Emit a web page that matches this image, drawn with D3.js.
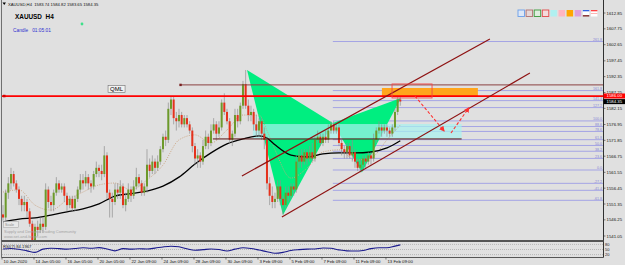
<!DOCTYPE html>
<html>
<head>
<meta charset="utf-8">
<script src="https://cdn.jsdelivr.net/npm/d3@7"></script>
<style>
  body { margin: 0; background: #e0e0e0; }
  svg { display: block; font-family: "Liberation Sans", Arial, sans-serif; }
</style>
</head>
<body>
<svg id="chart" width="625" height="265"></svg>
<script>
// ---- data (XAUUSD H4) ----
const priceTicks = [1612.85,1607.75,1602.65,1597.45,1592.35,1587.25,1582.15,1576.95,1571.85,1566.75,1561.55,1556.45,1551.35,1546.25,1541.05];
const timeLabels = ["10 Jan 2020","14 Jan 05:00","16 Jan 05:00","20 Jan 05:00","22 Jan 09:00","24 Jan 09:00","28 Jan 09:00","30 Jan 09:00","3 Feb 09:00","5 Feb 09:00","7 Feb 09:00","11 Feb 09:00","13 Feb 09:00"];
const timeLabelIdx = [0,12,24,36,48,60,72,84,96,108,120,132,144];

const firstOpen = 1548;
const highs = [
  1551,1556,1560,1563,1562,1559,1557,1554,1554,1553,
  1550,1546,1545,1546,1547,1547,1558,1557,1554,1556,
  1560,1559,1558,1558,1555,1554,1554,1554,1557,1561,
  1561,1562,1561,1559,1562,1565,1564,1564,1570,1568,
  1556,1555,1558,1558,1559,1558,1555,1558,1557,1559,
  1563,1561,1559,1558,1569,1566,1567,1566,1567,1570,
  1574,1575,1584,1586,1586,1581,1582,1581,1580,1580,
  1578,1576,1571,1569,1568,1572,1575,1574,1577,1579,
  1578,1578,1585,1587,1582,1579,1575,1582,1582,1584,
  1591,1594.5,1585,1583,1582,1580,1579,1579,1576,1573,
  1560,1557,1555,1559,1559,1554,1557,1557,1558,1558,
  1567,1569,1569,1569,1569,1570,1571,1573,1575,1574,
  1574,1575,1577,1578,1578,1577,1577,1572,1570,1571,
  1571,1572,1569,1566,1566,1567,1567,1568,1568,1574,
  1576,1578,1577,1577,1577,1576,1577,1582,1586,1586];
const lows = [
  1546,1546,1553,1556,1557,1555,1551,1549,1549,1547,
  1544,1537,1538,1541,1542,1542,1543,1550,1549,1549,
  1554,1555,1555,1552,1549,1550,1549,1549,1552,1555,
  1556,1557,1556,1555,1556,1560,1560,1559,1560,1553,
  1547,1547,1551,1553,1553,1550,1549,1552,1552,1553,
  1556,1557,1554,1554,1555,1560,1561,1561,1562,1564,
  1568,1570,1571,1580,1577,1575,1576,1576,1576,1576,
  1574,1568,1564,1563,1563,1564,1569,1569,1570,1574,
  1572,1573,1575,1580,1577,1571,1570,1573,1576,1577,
  1582,1582,1578,1578,1575,1573,1573,1572,1569,1556,
  1551,1550,1550,1552,1551,1548,1550,1552,1553,1554,
  1555,1563,1563,1564,1564,1565,1565,1565,1571,1570,
  1570,1571,1571,1574,1574,1574,1570,1567,1566,1566,
  1566,1565,1563,1562,1561.5,1562,1563,1564,1564,1565,
  1571,1574,1573,1574,1573,1573,1573,1575,1580,1583];
const closes = [
  1547,1555,1558,1561,1558,1556,1553,1551,1552,1549,
  1545,1539,1544,1543,1545,1544,1556,1552,1551,1555,
  1558,1556,1557,1554,1551,1553,1550,1553,1556,1559,
  1558,1560,1558,1557,1561,1563,1562,1561,1567,1555,
  1553,1552,1556,1555,1557,1551,1553,1556,1554,1557,
  1560,1558,1555,1557,1564,1562,1565,1563,1565,1569,
  1573,1572,1582,1585,1579,1578,1580,1577,1579,1577,
  1575,1570,1566,1567,1565,1570,1573,1571,1575,1577,
  1574,1576,1584,1581,1578,1572,1574,1580,1578,1583,
  1590,1583,1580,1581,1577,1575,1578,1574,1572,1558,
  1554,1552,1553,1557,1553,1551,1555,1554,1557,1556,
  1565,1567,1565,1568,1566,1568,1566,1572,1573,1571,
  1573,1572,1575,1577,1575,1576,1571,1569,1568,1570,
  1567,1568,1565,1563,1564,1566,1565,1567,1566,1572,
  1575,1576,1575,1576,1575,1574,1576,1581,1585,1584.35];

// moving averages, sampled every 6 bars
const maIdx  = [0,6,12,18,24,30,36,42,48,54,60,66,72,78,84,90,96,99,102,108,114,120,126,132,138,144,149];
const maSlow = [1545.6,1546.5,1546.9,1547.8,1548.8,1549.8,1551.4,1553.9,1554.7,1555.5,1557.1,1560.0,1564.2,1567.8,1570.7,1572.3,1573.3,1572.6,1570.4,1567.1,1566.5,1567.5,1567.8,1567.8,1568.1,1569.4,1571.7];
const maFast = [1555.2,1555.9,1551.0,1549.4,1552.6,1555.2,1557.5,1558.1,1555.9,1559.1,1563.9,1572.0,1573.6,1571.0,1575.2,1580.0,1580.0,1575.0,1568.8,1559.7,1562.9,1568.1,1568.8,1565.5,1566.2,1572.0,1576.8];

// RSI(7), sampled every 3 bars
const rsiIdx = [0,3,6,9,12,15,18,21,24,27,30,33,36,39,42,45,48,51,54,57,60,63,66,69,72,75,78,81,84,87,90,93,96,99,102,105,108,111,114,117,120,123,126,129,132,135,138,141,144,147,149];
const rsiVals = [53,56,51,42,33,52,57,55,52,56,60,57,61,53,42,55,52,54,53,58,65,69,66,54,46,49,53,50,41,52,60,56,47,37,28,33,44,49,52,53,59,57,48,42,41,44,55,60,60,70,77];
const rsiLevels = [80,50,20];

// fibonacci expansion
const fibLevels = [261.8,161.8,141.4,127.2,100.0,88.6,78.6,61.8,50.0,38.2,23.6,0.0,-27.2,-41.4,-61.8];
const fibZero = 1562.3, fibHundred = 1578.1, fibStartIdx = 123.7;

// harmonic pattern X A B C D
const harmIdx = [91.5,105,123.7,134.6,149.2];
const harmPx  = [1594.5,1547.8,1577.4,1561.5,1585.5];

// channel lines [idx1, px1, idx2, px2]
const chanUpper = [89.6,1560.4,182.6,1604.5];
const chanLower = [104.6,1547.2,197.6,1593.5];

const redLinePx = 1586.1, redLineLabel = "1586.00", brownLinePx = 1589.7, brownStartIdx = 66.7;
const zoneBottomPx = 1572.3, zoneTopPx = 1577.1, zoneIdx = [93.7,172], darkLineStartIdx = 78.7;
const orangePx = [1586.1,1588.7], orangeIdx = [142.1,178.1];
const boxPx = [1585.5,1590.0], boxIdx = [145.9,160.9];
const arrow1 = [154.5,1586.1,165.4,1574.9];
const arrow2 = [168,1574.2,174.7,1582.3];

const lastPrice = 1584.35;

// ---- layout ----
const svg = d3.select("#chart");
const W = 625, H = 265;
const left = 2, right = 603, mainTop = 1, mainBottom = 240, rsiTop = 242, rsiBottom = 257;

const x = d3.scaleLinear().domain([0, 149]).range([3, 400.3]);
const y = d3.scaleLinear().domain([1541.05, 1612.85]).range([236, 13]);
const yRsi = d3.scaleLinear().domain([0, 100]).range([258, 241]);

svg.append("rect").attr("width", W).attr("height", H).attr("fill", "#e0e0e0");

const defs = svg.append("defs");
defs.append("clipPath").attr("id", "clipMain").append("rect")
  .attr("x", left).attr("y", mainTop).attr("width", right - left).attr("height", mainBottom - mainTop);
defs.append("clipPath").attr("id", "clipRsi").append("rect")
  .attr("x", left).attr("y", rsiTop).attr("width", right - left).attr("height", rsiBottom - rsiTop);
defs.append("marker").attr("id", "arrowRed")
  .attr("viewBox", "0 0 10 10").attr("refX", 8).attr("refY", 5)
  .attr("markerWidth", 5).attr("markerHeight", 5).attr("orient", "auto")
  .append("path").attr("d", "M0,0L10,5L0,10z").attr("fill", "#ff3030");

const g = svg.append("g").attr("clip-path", "url(#clipMain)");

// fib lines
g.selectAll(".fib").data(fibLevels).join("line")
  .attr("x1", x(fibStartIdx)).attr("x2", right)
  .attr("y1", d => y(fibZero + (fibHundred - fibZero) * d / 100))
  .attr("y2", d => y(fibZero + (fibHundred - fibZero) * d / 100))
  .attr("stroke", "#a4a4e4").attr("stroke-width", 1);

// harmonic triangles
const tri = d3.line().x(d => x(d[0])).y(d => y(d[1]));
const pts = harmIdx.map((d, i) => [d, harmPx[i]]);
g.append("path").attr("d", tri([pts[0], pts[1], pts[2]]) + "Z").attr("fill", "#00ee80");
g.append("path").attr("d", tri([pts[2], pts[3], pts[4]]) + "Z").attr("fill", "#00ee80");

// cyan zone
g.append("rect")
  .attr("x", x(zoneIdx[0])).attr("width", x(zoneIdx[1]) - x(zoneIdx[0]))
  .attr("y", y(zoneTopPx)).attr("height", y(zoneBottomPx) - y(zoneTopPx))
  .attr("fill", "#a6f2f0").attr("fill-opacity", 0.7);

// orange zone
g.append("rect")
  .attr("x", x(orangeIdx[0])).attr("width", x(orangeIdx[1]) - x(orangeIdx[0]))
  .attr("y", y(orangePx[1])).attr("height", y(orangePx[0]) - y(orangePx[1]))
  .attr("fill", "#ffa51c");

// moving averages
const maLine = d3.line().x((d, i) => x(maIdx[i])).y(d => y(d)).curve(d3.curveMonotoneX);
g.append("path").attr("d", maLine(maFast)).attr("fill", "none")
  .attr("stroke", "#c9a27e").attr("stroke-width", 0.9).attr("stroke-dasharray", "1,1.3");
g.append("path").attr("d", maLine(maSlow)).attr("fill", "none")
  .attr("stroke", "#000").attr("stroke-width", 1.3);

// candles
const candles = closes.map((c, i) => ({ i, o: i ? closes[i - 1] : firstOpen, h: highs[i], l: lows[i], c }));
g.selectAll(".wick").data(candles).join("line")
  .attr("x1", d => x(d.i)).attr("x2", d => x(d.i))
  .attr("y1", d => y(d.h)).attr("y2", d => y(d.l))
  .attr("stroke", "#8e8e8e").attr("stroke-width", 0.7);
g.selectAll(".body").data(candles).join("rect")
  .attr("x", d => x(d.i) - 1).attr("width", 2)
  .attr("y", d => y(Math.max(d.o, d.c)))
  .attr("height", d => Math.max(0.7, Math.abs(y(d.o) - y(d.c))))
  .attr("fill", d => d.c >= d.o ? "#6c9a2a" : "#e5311c");

// horizontal lines
g.append("line").attr("x1", x(darkLineStartIdx)).attr("x2", x(zoneIdx[1]))
  .attr("y1", y(zoneBottomPx)).attr("y2", y(zoneBottomPx))
  .attr("stroke", "#5a1010").attr("stroke-width", 1);
g.append("line").attr("x1", x(brownStartIdx)).attr("x2", right)
  .attr("y1", y(brownLinePx)).attr("y2", y(brownLinePx))
  .attr("stroke", "#8b4040").attr("stroke-width", 1);
g.append("rect").attr("x", x(brownStartIdx) - 1.5).attr("y", y(brownLinePx) - 1.2)
  .attr("width", 2.4).attr("height", 2.4).attr("fill", "#7a2020");
g.append("line").attr("x1", left).attr("x2", right)
  .attr("y1", y(redLinePx)).attr("y2", y(redLinePx))
  .attr("stroke", "#ff0000").attr("stroke-width", 1.6);
g.append("rect").attr("x", left + 1).attr("y", y(redLinePx) - 1.3)
  .attr("width", 2.5).attr("height", 2.5).attr("fill", "#d00000");

// channel
[chanUpper, chanLower].forEach(c => {
  g.append("line")
    .attr("x1", x(c[0])).attr("y1", y(c[1]))
    .attr("x2", x(c[2])).attr("y2", y(c[3]))
    .attr("stroke", "#8e1212").attr("stroke-width", 1.2);
});

// red box + dashed arrows
g.append("rect")
  .attr("x", x(boxIdx[0])).attr("width", x(boxIdx[1]) - x(boxIdx[0]))
  .attr("y", y(boxPx[1])).attr("height", y(boxPx[0]) - y(boxPx[1]))
  .attr("fill", "none").attr("stroke", "#f04848").attr("stroke-width", 0.9);
[arrow1, arrow2].forEach(a => {
  g.append("line")
    .attr("x1", x(a[0])).attr("y1", y(a[1]))
    .attr("x2", x(a[2])).attr("y2", y(a[3]))
    .attr("stroke", "#ff3030").attr("stroke-width", 1.1)
    .attr("stroke-dasharray", "3,2").attr("marker-end", "url(#arrowRed)");
});

// QML label
const qml = g.append("g").attr("transform", `translate(${x(39.4)},${y(1589.5)})`);
qml.append("rect").attr("width", 17).attr("height", 7).attr("fill", "#f2f2f2")
  .attr("stroke", "#707070").attr("stroke-width", 0.6);
qml.append("text").attr("x", 8.5).attr("y", 5.6).attr("text-anchor", "middle")
  .attr("font-size", 6).attr("fill", "#000").text("QML");

// fib labels
svg.selectAll(".fibLabel").data(fibLevels).join("text")
  .attr("x", right - 1).attr("text-anchor", "end")
  .attr("y", d => y(fibZero + (fibHundred - fibZero) * d / 100) - 0.7)
  .attr("font-size", 3.6).attr("fill", "#8686d6")
  .text(d => d.toFixed(1));

// ---- RSI window ----
const r = svg.append("g").attr("clip-path", "url(#clipRsi)");
r.selectAll(".lvl").data(rsiLevels).join("line")
  .attr("x1", left).attr("x2", right).attr("y1", d => yRsi(d)).attr("y2", d => yRsi(d))
  .attr("stroke", "#9a9a9a").attr("stroke-width", 0.6).attr("stroke-dasharray", "1,1");
const rsiLine = d3.line().x((d, i) => x(rsiIdx[i])).y(d => yRsi(d)).curve(d3.curveMonotoneX);
r.append("path").attr("d", rsiLine(rsiVals)).attr("fill", "none")
  .attr("stroke", "#1a1a8c").attr("stroke-width", 1.1);
svg.append("text").attr("x", 3).attr("y", 248).attr("font-size", 4.2).attr("fill", "#222")
  .text("RSI(7) 84.1967");
svg.selectAll(".rsiLab").data(rsiLevels).join("text")
  .attr("x", right + 2).attr("y", d => yRsi(d) + 1.5)
  .attr("font-size", 4).attr("fill", "#222").text(d => d);

// ---- frames ----
svg.append("line").attr("x1", left - 0.5).attr("x2", left - 0.5).attr("y1", 0).attr("y2", rsiBottom + 0.5)
  .attr("stroke", "#707070").attr("stroke-width", 1);
svg.append("line").attr("x1", right + 0.5).attr("x2", right + 0.5).attr("y1", 0).attr("y2", rsiBottom + 0.5)
  .attr("stroke", "#303030").attr("stroke-width", 1);
[mainBottom + 0.5, rsiTop - 0.5, rsiBottom + 0.5].forEach(v => {
  svg.append("line").attr("x1", left - 0.5).attr("x2", right + 0.5).attr("y1", v).attr("y2", v)
    .attr("stroke", "#555").attr("stroke-width", 1);
});

// price axis
svg.selectAll(".pTick").data(priceTicks).join("line")
  .attr("x1", right + 0.5).attr("x2", right + 2.5).attr("y1", d => y(d)).attr("y2", d => y(d))
  .attr("stroke", "#303030").attr("stroke-width", 0.6);
svg.selectAll(".pLab").data(priceTicks).join("text")
  .attr("x", right + 3.5).attr("y", d => y(d) + 1.5)
  .attr("font-size", 4.3).attr("fill", "#111").text(d => d.toFixed(2));

const redTag = svg.append("g").attr("transform", `translate(${right + 0.5},${y(redLinePx) - 2.6})`);
redTag.append("rect").attr("width", W - right).attr("height", 5).attr("fill", "#ff0000");
redTag.append("text").attr("x", 3).attr("y", 4).attr("font-size", 4.3).attr("fill", "#fff").text(redLineLabel);
const lastTag = svg.append("g").attr("transform", `translate(${right + 0.5},${y(lastPrice) - 2.4})`);
lastTag.append("rect").attr("width", W - right).attr("height", 5).attr("fill", "#000");
lastTag.append("text").attr("x", 3).attr("y", 4).attr("font-size", 4.3).attr("fill", "#fff").text(lastPrice.toFixed(2));

// time axis
svg.selectAll(".tTick").data(timeLabelIdx).join("line")
  .attr("x1", d => x(d) - 1).attr("x2", d => x(d) - 1).attr("y1", rsiBottom + 0.5).attr("y2", rsiBottom + 2.5)
  .attr("stroke", "#303030").attr("stroke-width", 0.6);
svg.selectAll(".tLab").data(timeLabels).join("text")
  .attr("x", (d, i) => x(timeLabelIdx[i]) + 0.5).attr("y", 262.5)
  .attr("font-size", 4.3).attr("fill", "#111").text(d => d);

// ---- header texts ----
svg.append("path").attr("d", "M2.5,2.5L6,2.5L4.25,5z").attr("fill", "#000");
svg.append("text").attr("x", 8).attr("y", 6).attr("font-size", 4.2).attr("fill", "#111")
  .text("XAUUSD,H4  1583.74 1584.82 1583.65 1584.35").style("white-space", "pre");
svg.append("text").attr("x", 15).attr("y", 19).attr("font-size", 6.4).attr("font-weight", "bold")
  .attr("fill", "#000").style("white-space", "pre").text("XAUUSD  H4");
svg.append("text").attr("x", 13).attr("y", 31.5).attr("font-size", 4.8).attr("fill", "#3030d0")
  .style("white-space", "pre").text("Candle   01:05:01");
svg.append("circle").attr("cx", 82).attr("cy", 24).attr("r", 1.4).attr("fill", "#3ee08a");

// watermark
svg.append("rect").attr("x", 3.5).attr("y", 221.5).attr("width", 15).attr("height", 6)
  .attr("fill", "#e8e8e8").attr("stroke", "#a0a0a0").attr("stroke-width", 0.5);
svg.append("text").attr("x", 5).attr("y", 226).attr("font-size", 3.6).attr("fill", "#888").text("Scale");
svg.append("text").attr("x", 4).attr("y", 232.5).attr("font-size", 4).attr("fill", "#a4a4a4")
  .text("Supply and Demand Trading Community");
svg.append("text").attr("x", 4).attr("y", 237.5).attr("font-size", 4).attr("fill", "#a4a4a4")
  .text("www.set-and-forget.com");

// toolbar icons (top right)
const iconFill = ["#dce8f8","#e6d8d8","#dfeedf","#f4dcdc","#b0f0f0","#ffb6c1","#ffa500","#dda0dd","#ffffff","#ffffff"];
const iconStroke = ["#6a9ee8","#b07070","#3a9a3a","#e04848","none","none","none","none","none","none"];
const icons = svg.selectAll(".icon").data(iconFill).join("g")
  .attr("transform", (d, i) => `translate(${518 + i * 8.1},10)`);
icons.append("rect").attr("width", 6.5).attr("height", 6.5)
  .attr("fill", d => d).attr("stroke", (d, i) => iconStroke[i]).attr("stroke-width", 0.9);
icons.filter((d, i) => i === 8).append("rect").attr("y", 0).attr("width", 6.5).attr("height", 1.3).attr("fill", "#3060e0");
icons.filter((d, i) => i === 8).append("rect").attr("y", 5.2).attr("width", 6.5).attr("height", 1.3).attr("fill", "#701010");
icons.filter((d, i) => i === 9).append("rect").attr("y", 0).attr("width", 6.5).attr("height", 1.3).attr("fill", "#ff4040");
icons.filter((d, i) => i === 9).append("rect").attr("y", 3).attr("width", 6.5).attr("height", 0.8).attr("fill", "#ffa0a0");
</script>
</body>
</html>
